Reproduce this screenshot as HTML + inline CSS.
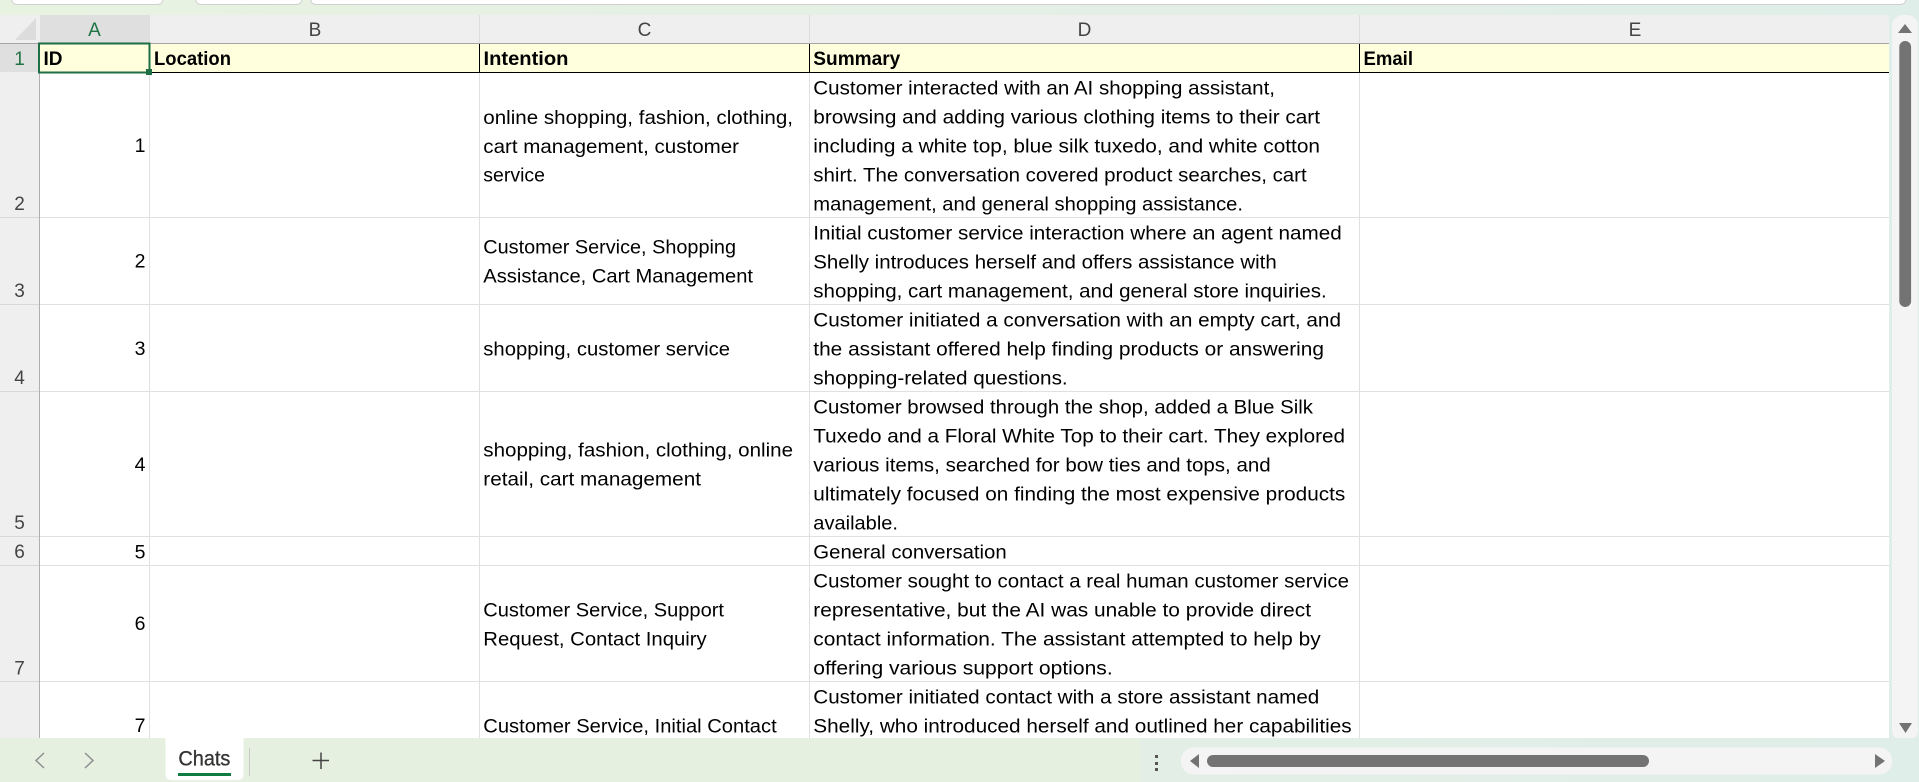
<!DOCTYPE html>
<html><head><meta charset="utf-8"><title>Chats</title>
<style>
html,body{margin:0;padding:0;width:1919px;height:782px;overflow:hidden;background:#e4f0e5}
svg{display:block}
text{font-family:"Liberation Sans",sans-serif}
.t{font-size:19.5px;fill:#000}
.b{font-size:19.5px;font-weight:bold;fill:#000}
.h{font-size:19px;fill:#444;text-anchor:middle}
.n{font-size:19.5px;fill:#000;text-anchor:end}
</style></head><body>
<svg width="1919" height="782" viewBox="0 0 1919 782" xmlns="http://www.w3.org/2000/svg">
<defs><linearGradient id="bg" x1="0" x2="1" y1="0" y2="0"><stop offset="0" stop-color="#e8f2e1"/><stop offset="0.6" stop-color="#e3efe6"/><stop offset="1" stop-color="#e0eee9"/></linearGradient></defs>
<rect width="1919" height="782" fill="url(#bg)"/>
<!-- top tabs -->
<g fill="#fff" stroke="#d0d0d0" stroke-width="1">
<path d="M12 -2V0Q12 4.500 18 4.500H157Q163 4.500 163 -2Z"/>
<path d="M196 -2V0Q196 4.500 202 4.500H296Q302 4.500 302 -2Z"/>
<path d="M311 -2V0Q311 4.500 317 4.500H1900Q1906 4.500 1906 -2Z"/>
</g>
<!-- grid background -->
<rect x="0" y="15" width="1889" height="723" fill="#fff"/>
<rect x="0" y="15" width="1889" height="29" fill="#efefef"/>
<rect x="0" y="44" width="39.500" height="694" fill="#efefef"/>
<rect x="40" y="15" width="110" height="29" fill="#dfdfdf"/>
<rect x="0" y="44" width="39.500" height="28" fill="#dfdfdf"/>
<polygon points="36,18 36,40 15,40" fill="#dcdcdc"/>
<rect x="40" y="44" width="1849" height="28" fill="#ffffdd"/>
<!-- col header separators -->
<g stroke="#dcdcdc" stroke-width="1">
<line x1="479.500" y1="15" x2="479.500" y2="43"/><line x1="809.500" y1="15" x2="809.500" y2="43"/><line x1="1359.500" y1="15" x2="1359.500" y2="43"/>
</g>
<line x1="0" y1="43.500" x2="1889" y2="43.500" stroke="#a6a6a6"/>
<!-- gridlines -->
<g stroke="#e0e0e0" stroke-width="1">
<line x1="149.500" y1="72" x2="149.500" y2="738"/><line x1="479.500" y1="72" x2="479.500" y2="738"/><line x1="809.500" y1="72" x2="809.500" y2="738"/><line x1="1359.500" y1="72" x2="1359.500" y2="738"/>
<line x1="40" y1="217.500" x2="1889" y2="217.500"/><line x1="40" y1="304.500" x2="1889" y2="304.500"/><line x1="40" y1="391.500" x2="1889" y2="391.500"/><line x1="40" y1="536.500" x2="1889" y2="536.500"/><line x1="40" y1="565.500" x2="1889" y2="565.500"/><line x1="40" y1="681.500" x2="1889" y2="681.500"/>
</g>
<g stroke="#d8d8d8" stroke-width="1">
<line x1="0" y1="217.500" x2="39" y2="217.500"/><line x1="0" y1="304.500" x2="39" y2="304.500"/><line x1="0" y1="391.500" x2="39" y2="391.500"/><line x1="0" y1="536.500" x2="39" y2="536.500"/><line x1="0" y1="565.500" x2="39" y2="565.500"/><line x1="0" y1="681.500" x2="39" y2="681.500"/>
</g>
<line x1="39.500" y1="44" x2="39.500" y2="738" stroke="#b0b0b0"/>
<!-- header row borders -->
<g stroke="#000" stroke-width="1">
<line x1="40" y1="72.500" x2="1889" y2="72.500"/>
<line x1="479.500" y1="44" x2="479.500" y2="72"/><line x1="809.500" y1="44" x2="809.500" y2="72"/><line x1="1359.500" y1="44" x2="1359.500" y2="72"/>
</g>
<!-- col letters -->
<text class="h" x="94.500" y="36" style="fill:#217346">A</text>
<text class="h" x="315" y="36">B</text>
<text class="h" x="644.500" y="36">C</text>
<text class="h" x="1084.500" y="36">D</text>
<text class="h" x="1635" y="36">E</text>
<!-- row numbers -->
<text class="h" x="19.600" y="65.200" style="fill:#217346">1</text>
<text class="h" x="19.600" y="210">2</text>
<text class="h" x="19.600" y="297">3</text>
<text class="h" x="19.600" y="384">4</text>
<text class="h" x="19.600" y="529">5</text>
<text class="h" x="19.600" y="558">6</text>
<text class="h" x="19.600" y="674.500">7</text>
<!-- header cells -->
<text class="b" x="43.500" y="65.200" textLength="19" lengthAdjust="spacingAndGlyphs">ID</text>
<text class="b" x="154" y="65.200" textLength="77" lengthAdjust="spacingAndGlyphs">Location</text>
<text class="b" x="483.500" y="65.200" textLength="85" lengthAdjust="spacingAndGlyphs">Intention</text>
<text class="b" x="813.300" y="65.200" textLength="87" lengthAdjust="spacingAndGlyphs">Summary</text>
<text class="b" x="1363.500" y="65.200" textLength="49.500" lengthAdjust="spacingAndGlyphs">Email</text>
<!-- IDs -->
<text class="n" x="145.500" y="152">1</text>
<text class="n" x="145.500" y="267.500">2</text>
<text class="n" x="145.500" y="355">3</text>
<text class="n" x="145.500" y="471">4</text>
<text class="n" x="145.500" y="558.500">5</text>
<text class="n" x="145.500" y="630">6</text>
<text class="n" x="145.500" y="732">7</text>
<!-- Intention -->
<g transform="translate(0,-0.7)">
<text class="t" x="483.300" y="124.700" textLength="309.700" lengthAdjust="spacingAndGlyphs">online shopping, fashion, clothing,</text>
<text class="t" x="483.300" y="153.700" textLength="255.700" lengthAdjust="spacingAndGlyphs">cart management, customer</text>
<text class="t" x="483.300" y="182.300" textLength="61.700" lengthAdjust="spacingAndGlyphs">service</text>
<text class="t" x="483.300" y="254.300" textLength="252.700" lengthAdjust="spacingAndGlyphs">Customer Service, Shopping</text>
<text class="t" x="483.300" y="283.200" textLength="269.700" lengthAdjust="spacingAndGlyphs">Assistance, Cart Management</text>
<text class="t" x="483.300" y="356.300" textLength="246.700" lengthAdjust="spacingAndGlyphs">shopping, customer service</text>
<text class="t" x="483.300" y="457.300" textLength="309.700" lengthAdjust="spacingAndGlyphs">shopping, fashion, clothing, online</text>
<text class="t" x="483.300" y="486.300" textLength="217.700" lengthAdjust="spacingAndGlyphs">retail, cart management</text>
<text class="t" x="483.300" y="617.200" textLength="240.700" lengthAdjust="spacingAndGlyphs">Customer Service, Support</text>
<text class="t" x="483.300" y="646.200" textLength="223.400" lengthAdjust="spacingAndGlyphs">Request, Contact Inquiry</text>
<text class="t" x="483.300" y="733" textLength="293.400" lengthAdjust="spacingAndGlyphs">Customer Service, Initial Contact</text>
</g>
<!-- Summary -->
<g transform="translate(0,-0.7)">
<text class="t" x="813.300" y="95.400" textLength="461.700" lengthAdjust="spacingAndGlyphs">Customer interacted with an AI shopping assistant,</text>
<text class="t" x="813.300" y="124.400" textLength="506.700" lengthAdjust="spacingAndGlyphs">browsing and adding various clothing items to their cart</text>
<text class="t" x="813.300" y="153.400" textLength="506.700" lengthAdjust="spacingAndGlyphs">including a white top, blue silk tuxedo, and white cotton</text>
<text class="t" x="813.300" y="182.400" textLength="493.400" lengthAdjust="spacingAndGlyphs">shirt. The conversation covered product searches, cart</text>
<text class="t" x="813.300" y="211.400" textLength="429.700" lengthAdjust="spacingAndGlyphs">management, and general shopping assistance.</text>
<text class="t" x="813.300" y="240.400" textLength="528.400" lengthAdjust="spacingAndGlyphs">Initial customer service interaction where an agent named</text>
<text class="t" x="813.300" y="269.400" textLength="463.400" lengthAdjust="spacingAndGlyphs">Shelly introduces herself and offers assistance with</text>
<text class="t" x="813.300" y="298.400" textLength="513.400" lengthAdjust="spacingAndGlyphs">shopping, cart management, and general store inquiries.</text>
<text class="t" x="813.300" y="327.400" textLength="527.700" lengthAdjust="spacingAndGlyphs">Customer initiated a conversation with an empty cart, and</text>
<text class="t" x="813.300" y="356.400" textLength="510.700" lengthAdjust="spacingAndGlyphs">the assistant offered help finding products or answering</text>
<text class="t" x="813.300" y="385.400" textLength="254.400" lengthAdjust="spacingAndGlyphs">shopping-related questions.</text>
<text class="t" x="813.300" y="414.400" textLength="499.700" lengthAdjust="spacingAndGlyphs">Customer browsed through the shop, added a Blue Silk</text>
<text class="t" x="813.300" y="443.400" textLength="531.700" lengthAdjust="spacingAndGlyphs">Tuxedo and a Floral White Top to their cart. They explored</text>
<text class="t" x="813.300" y="472.400" textLength="457.400" lengthAdjust="spacingAndGlyphs">various items, searched for bow ties and tops, and</text>
<text class="t" x="813.300" y="501.400" textLength="532" lengthAdjust="spacingAndGlyphs">ultimately focused on finding the most expensive products</text>
<text class="t" x="813.300" y="530.400" textLength="84.700" lengthAdjust="spacingAndGlyphs">available.</text>
<text class="t" x="813.300" y="559.400" textLength="193.400" lengthAdjust="spacingAndGlyphs">General conversation</text>
<text class="t" x="813.300" y="588.400" textLength="535.700" lengthAdjust="spacingAndGlyphs">Customer sought to contact a real human customer service</text>
<text class="t" x="813.300" y="617.400" textLength="497.700" lengthAdjust="spacingAndGlyphs">representative, but the AI was unable to provide direct</text>
<text class="t" x="813.300" y="646.400" textLength="507.400" lengthAdjust="spacingAndGlyphs">contact information. The assistant attempted to help by</text>
<text class="t" x="813.300" y="675.400" textLength="299.400" lengthAdjust="spacingAndGlyphs">offering various support options.</text>
<text class="t" x="813.300" y="704.400" textLength="506" lengthAdjust="spacingAndGlyphs">Customer initiated contact with a store assistant named</text>
<text class="t" x="813.300" y="733.200" textLength="538.400" lengthAdjust="spacingAndGlyphs">Shelly, who introduced herself and outlined her capabilities</text>
</g>
<!-- selected cell -->
<rect x="39" y="43.500" width="110.500" height="29" fill="none" stroke="#1e6e46" stroke-width="2"/>
<rect x="146" y="69" width="6" height="6" fill="#1e6e46"/>
<!-- vertical scrollbar -->
<rect x="1892" y="15" width="26" height="726" rx="11" fill="#f4f4f4"/>
<polygon points="1905,24 1912,33 1898,33" fill="#737373"/>
<rect x="1899.300" y="41" width="11.800" height="266" rx="5.900" fill="#737373"/>
<polygon points="1905.500,733 1899,723 1912,723" fill="#737373"/>
<!-- bottom strip -->
<rect x="0" y="738" width="1919" height="44" fill="url(#bg)"/>
<path d="M0 738H158Q165.500 738 165.500 745V782H0Z" fill="#e6f0e0"/>
<path d="M243.500 782V745Q243.500 738 251 738H1140V782Z" fill="#e6f0e0"/>
<path d="M165.500 738H243.500V774Q243.500 780 237 780H172Q165.500 780 165.500 774Z" fill="#fff"/>
<text x="178.400" y="765.500" textLength="52" lengthAdjust="spacingAndGlyphs" style="font-size:21px;fill:#333;stroke:#333;stroke-width:.3">Chats</text>
<rect x="178" y="773" width="53" height="3" fill="#107c41"/>
<line x1="249.500" y1="748" x2="249.500" y2="776" stroke="#c8c8c8"/>
<path d="M312.500 760.500H329M321 752.500V769" stroke="#444" stroke-width="1.500" fill="none"/>
<path d="M44 753L36 760.500L44 768" stroke="#8f8f8f" stroke-width="1.500" fill="none"/>
<path d="M85 753L93 760.500L85 768" stroke="#8f8f8f" stroke-width="1.500" fill="none"/>
<g fill="#555"><rect x="1155" y="755" width="3" height="3"/><rect x="1155" y="762" width="3" height="3"/><rect x="1155" y="768" width="3" height="3"/></g>
<!-- horizontal scrollbar -->
<rect x="1181" y="747.500" width="711" height="27" rx="13" fill="#f4f4f4"/>
<polygon points="1190,761 1199,754 1199,768" fill="#737373"/>
<rect x="1207" y="755" width="442" height="12" rx="6" fill="#737373"/>
<polygon points="1885,761 1875,754 1875,768" fill="#737373"/>
</svg>
</body></html>
